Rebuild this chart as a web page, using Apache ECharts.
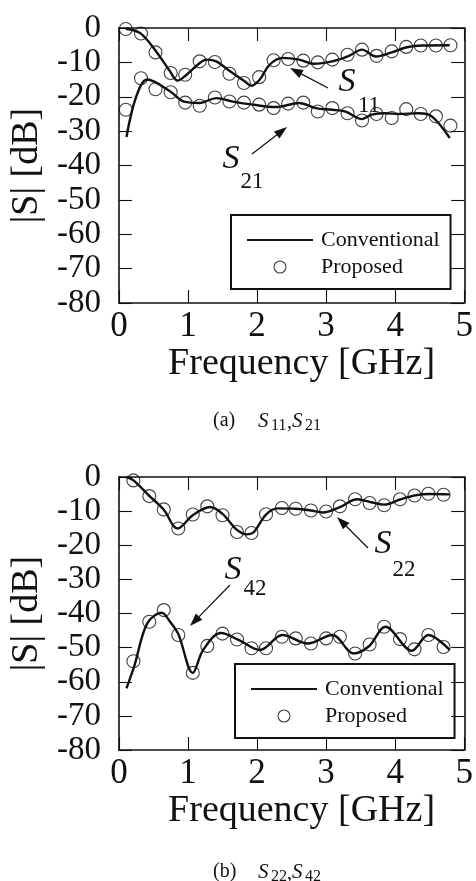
<!DOCTYPE html>
<html><head><meta charset="utf-8">
<script src="https://cdn.jsdelivr.net/npm/echarts@6/dist/echarts.min.js"></script>
<style>html,body{margin:0;padding:0;background:#fff}#c{width:476px;height:881px}</style>
</head><body><div id="c"></div><script>
// ---------- data ----------
const xTicks = [0, 1, 2, 3, 4, 5];
const yTicks = [0, -10, -20, -30, -40, -50, -60, -70, -80];
const seriesNames = ['Conventional', 'Proposed'];

// (a) measured points (Proposed)
const freqA = [0.10,0.32,0.53,0.75,0.96,1.17,1.39,1.60,1.81,2.03,2.24,2.45,2.67,2.88,3.09,3.31,3.52,3.73,3.95,4.16,4.37,4.59,4.80];
const s11Prop = [-0.3,-1.6,-7.1,-13.1,-13.6,-9.7,-9.9,-13.3,-16.0,-14.3,-9.4,-9.0,-9.5,-10.0,-9.2,-7.8,-6.3,-8.1,-6.8,-5.5,-5.1,-5.1,-5.0];
const s21Prop = [-23.8,-14.6,-17.8,-18.7,-21.7,-22.6,-20.2,-21.4,-21.7,-22.3,-23.3,-22.0,-21.7,-24.3,-23.3,-24.8,-26.9,-25.0,-26.2,-23.6,-25.0,-25.7,-28.4];
// (a) Conventional curves
const s11ConvF = [0.10,0.31,0.55,0.74,0.85,0.98,1.17,1.27,1.41,1.61,1.82,1.92,2.04,2.18,2.37,2.61,2.82,3.09,3.33,3.52,3.72,3.95,4.17,4.39,4.79];
const s11ConvV = [-0.2,-1.5,-7.1,-12.6,-15.3,-13.6,-10.2,-9.2,-9.7,-12.6,-15.5,-16.8,-15.0,-10.7,-8.7,-9.2,-10.4,-9.7,-8.1,-6.3,-8.3,-7.1,-5.6,-5.1,-5.0];
const s21ConvF = [0.11,0.25,0.41,0.74,0.94,1.17,1.41,1.65,1.94,2.27,2.61,2.85,3.09,3.28,3.52,3.66,3.86,4.05,4.34,4.53,4.79];
const s21ConvV = [-31.7,-20.0,-15.0,-18.4,-21.4,-21.8,-20.4,-21.4,-22.3,-23.0,-21.8,-23.3,-23.8,-24.3,-26.5,-25.2,-24.8,-25.0,-24.8,-25.7,-32.0];

// (b) measured points (Proposed)
const freqB = [0.21,0.44,0.65,0.86,1.07,1.28,1.50,1.71,1.92,2.13,2.36,2.56,2.78,3.00,3.20,3.42,3.63,3.84,4.07,4.28,4.48,4.70];
const s22Prop = [-1.0,-5.6,-9.5,-15.1,-11.0,-8.6,-11.2,-16.1,-16.4,-10.9,-9.1,-9.3,-9.8,-10.1,-8.6,-6.5,-7.6,-8.3,-6.5,-5.4,-4.9,-5.2];
const s42Prop = [-54.0,-42.4,-39.0,-46.3,-57.4,-49.5,-45.9,-47.6,-50.2,-50.2,-46.8,-47.3,-48.8,-47.3,-46.8,-51.7,-49.1,-43.9,-47.5,-50.5,-46.3,-49.8];
// (b) Conventional curves
const s22ConvF = [0.11,0.21,0.44,0.65,0.85,1.07,1.32,1.50,1.71,1.85,1.95,2.13,2.30,2.56,2.78,2.95,3.20,3.45,3.65,3.84,4.07,4.29,4.50,4.79];
const s22ConvV = [0.0,-1.0,-5.5,-9.6,-15.1,-11.2,-8.8,-10.8,-15.5,-16.8,-16.2,-11.0,-9.2,-9.3,-9.8,-10.4,-8.8,-6.5,-7.4,-8.1,-6.6,-5.4,-5.0,-5.1];
const s42ConvF = [0.11,0.22,0.41,0.62,0.74,0.86,1.07,1.22,1.48,1.74,2.04,2.37,2.73,3.09,3.40,3.62,3.86,4.24,4.48,4.79];
const s42ConvV = [-61.9,-55.6,-42.9,-39.8,-42.4,-46.0,-57.4,-50.7,-45.7,-47.8,-50.7,-46.3,-48.8,-46.3,-51.7,-49.6,-43.9,-50.9,-46.3,-50.7];

// ---------- chart ----------
const FONT = 'Liberation Serif';
const zip = (a, b) => a.map((v, i) => [v, b[i]]);

function lineSeries(f, v, gi) {
  return { name: seriesNames[0], type: 'line', xAxisIndex: gi * 2, yAxisIndex: gi * 2,
    data: zip(f, v), smooth: 0.35, symbol: 'none', clip: true,
    lineStyle: { color: '#111', width: 2.4 }, itemStyle: { color: '#111' }, z: 3 };
}
function scatterSeries(f, v, gi) {
  return { name: seriesNames[1], type: 'scatter', xAxisIndex: gi * 2, yAxisIndex: gi * 2,
    data: zip(f, v), symbol: 'circle', symbolSize: 13,
    itemStyle: { color: 'rgba(0,0,0,0)', borderColor: '#111', borderWidth: 1.1 }, z: 4 };
}

const axisLine = { show: true, onZero: false, lineStyle: { color: '#111', width: 1.6 } };
const tickIn = { show: true, inside: true, length: 13, lineStyle: { color: '#111', width: 1.1 } };

function xAxes(gi) {
  return [
    { type: 'value', gridIndex: gi, position: 'bottom', min: xTicks[0], max: xTicks[xTicks.length - 1], interval: 1,
      axisLine, axisTick: tickIn, splitLine: { show: false },
      axisLabel: { fontFamily: FONT, fontSize: 35, color: '#111', margin: 6, showMinLabel: true, showMaxLabel: true, hideOverlap: false },
      name: 'Frequency [GHz]', nameLocation: 'middle', nameGap: 30,
      nameTextStyle: { fontFamily: FONT, fontSize: 38, color: '#111', padding: [0, 0, 0, 20] } },
    { type: 'value', gridIndex: gi, position: 'top', min: xTicks[0], max: xTicks[xTicks.length - 1], interval: 1,
      axisLine, axisTick: tickIn, splitLine: { show: false }, axisLabel: { show: false } }
  ];
}
function yAxes(gi) {
  return [
    { type: 'value', gridIndex: gi, position: 'left', min: yTicks[yTicks.length - 1], max: yTicks[0], interval: 10,
      axisLine, axisTick: tickIn, splitLine: { show: false },
      axisLabel: { fontFamily: FONT, fontSize: 33, color: '#111', margin: 18, showMinLabel: true, showMaxLabel: true, hideOverlap: false },
      name: '|S| [dB]', nameLocation: 'middle', nameGap: 61,
      nameTextStyle: { fontFamily: FONT, fontSize: 38, color: '#111' } },
    { type: 'value', gridIndex: gi, position: 'right', min: yTicks[yTicks.length - 1], max: yTicks[0], interval: 10,
      axisLine, axisTick: tickIn, splitLine: { show: false }, axisLabel: { show: false } }
  ];
}

function legendAt(left, top) {
  return { left, top, orient: 'vertical',
    data: [
      { name: seriesNames[0], itemStyle: { opacity: 0 } },
      { name: seriesNames[1], itemStyle: { color: 'rgba(0,0,0,0)', borderColor: '#111', borderWidth: 1.1 } }
    ],
    borderColor: '#111', borderWidth: 2, borderRadius: 0, padding: [14, 11, 11, 15],
    itemWidth: 66, itemHeight: 12, itemGap: 5,
    textStyle: { fontFamily: FONT, fontSize: 22, color: '#111', padding: [0, 0, 0, 3] },
    selectedMode: false };
}

function arrow(x1, y1, x2, y2) {
  const dx = x2 - x1, dy = y2 - y1, L = Math.hypot(dx, dy), ux = dx / L, uy = dy / L;
  const hl = 13, hw = 4.5, bx = x2 - ux * hl, by = y2 - uy * hl;
  return [
    { type: 'line', shape: { x1, y1, x2: bx + ux * 2, y2: by + uy * 2 }, style: { stroke: '#111', lineWidth: 1.2 }, z: 10 },
    { type: 'polygon', shape: { points: [[x2, y2], [bx - uy * hw, by + ux * hw], [bx + uy * hw, by - ux * hw]] }, style: { fill: '#111' }, z: 10 }
  ];
}
function txt(x, y, text, size, italic, align) {
  return { type: 'text', x, y, z: 10,
    style: { text, fontFamily: FONT, fontSize: size, fontStyle: italic ? 'italic' : 'normal', fill: '#111',
      textAlign: align || 'center', textVerticalAlign: 'middle' } };
}
function caption(y, tag, a, b) {
  return [
    txt(213, y, tag, 20, false, 'left'),
    txt(258, y, 'S', 21, true, 'left'), txt(271, y + 5, a, 16, false, 'left'), txt(287, y + 2, ',', 20, false, 'left'),
    txt(292, y, 'S', 21, true, 'left'), txt(305, y + 5, b, 16, false, 'left')
  ];
}

const graphics = [
  txt(347, 82, 'S', 34, true), txt(369, 106, '11', 23, false), ...arrow(328, 88, 290, 68),
  txt(231, 159, 'S', 34, true), txt(252, 182, '21', 23, false), ...arrow(252, 154, 287, 127),
  txt(233, 570, 'S', 34, true), txt(255, 589, '42', 23, false), ...arrow(230, 585, 190, 626),
  txt(383, 544, 'S', 34, true), txt(404, 570, '22', 23, false), ...arrow(368, 548, 337, 517),
  ...caption(421, '(a)', '11', '21'),
  ...caption(872, '(b)', '22', '42')
];

const chart = echarts.init(document.getElementById('c'), null, { renderer: 'canvas' });
chart.setOption({
  backgroundColor: '#fff',
  animation: false,
  grid: [
    { left: 118, top: 28, width: 348, height: 275 },
    { left: 118, top: 477, width: 348, height: 273 }
  ],
  xAxis: [...xAxes(0), ...xAxes(1)],
  yAxis: [...yAxes(0), ...yAxes(1)],
  legend: [legendAt(231, 215), legendAt(235, 664)],
  series: [
    lineSeries(s11ConvF, s11ConvV, 0), scatterSeries(freqA, s11Prop, 0),
    lineSeries(s21ConvF, s21ConvV, 0), scatterSeries(freqA, s21Prop, 0),
    lineSeries(s22ConvF, s22ConvV, 1), scatterSeries(freqB, s22Prop, 1),
    lineSeries(s42ConvF, s42ConvV, 1), scatterSeries(freqB, s42Prop, 1)
  ],
  graphic: graphics
});
</script></body></html>
